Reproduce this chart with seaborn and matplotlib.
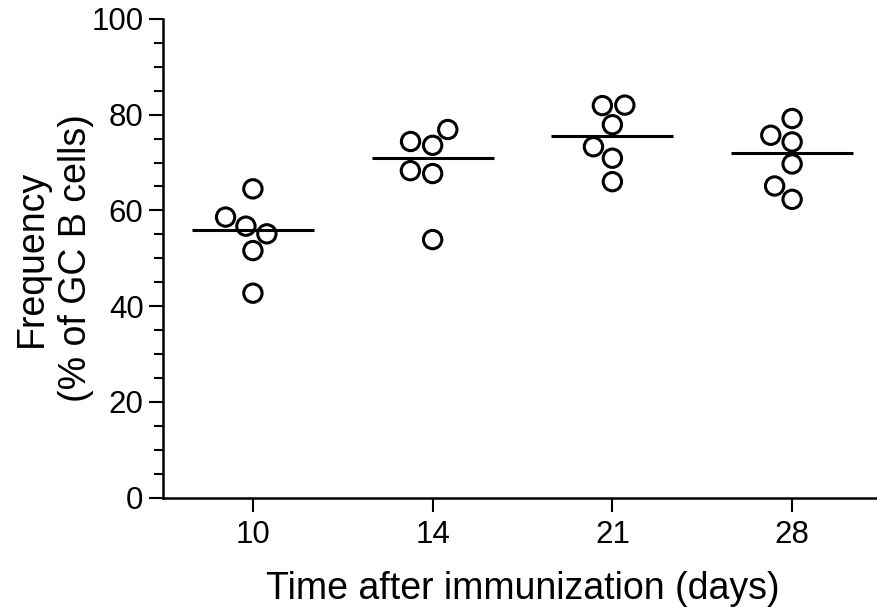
import numpy as np
import pandas as pd
import seaborn as sns
import matplotlib.pyplot as plt
from matplotlib.ticker import MultipleLocator

# values
days = ["10", "14", "21", "28"]
day10 = [64.5, 58.6, 56.7, 55.1, 51.6, 42.7]
day14 = [76.9, 74.4, 73.6, 68.3, 67.7, 53.9]
day21 = [82.0, 81.9, 77.9, 73.3, 70.9, 66.0]
day28 = [79.2, 75.7, 74.3, 69.7, 65.1, 62.3]

df = pd.DataFrame({
    "day": np.repeat(days, 6),
    "freq": day10 + day14 + day21 + day28,
})

sns.set_theme(style="ticks")
plt.rcParams["font.family"] = ["Liberation Sans", "DejaVu Sans"]

fig = plt.figure(figsize=(8.77, 6.10), dpi=100)
ax = fig.add_axes([0.1859, 0.1844, 0.8198, 0.7845])

# median lines
sns.boxplot(data=df, x="day", y="freq", order=days, width=0.68,
            showbox=False, showcaps=False, showfliers=False,
            whiskerprops={"visible": False},
            medianprops={"color": "black", "linewidth": 2.2}, ax=ax)

# open circles
sns.swarmplot(data=df, x="day", y="freq", order=days, size=13.2,
              color="black", facecolor="none", edgecolor="black",
              linewidth=2.2, ax=ax)

ax.set_ylim(0, 100)
ax.set_xlim(-0.5, 3.5)
ax.yaxis.set_major_locator(MultipleLocator(20))
ax.yaxis.set_minor_locator(MultipleLocator(5))

sns.despine(ax=ax)
for s in ["left", "bottom"]:
    ax.spines[s].set_linewidth(1.8)
    ax.spines[s].set_color("black")

ax.tick_params(axis="both", which="major", length=10, width=1.5,
               labelsize=22.5, color="black", labelcolor="black")
ax.tick_params(axis="y", which="minor", length=6.5, width=1.5, color="black")
ax.tick_params(axis="y", which="major", pad=4)
ax.tick_params(axis="x", which="major", pad=6.5)

ax.set_xlabel("Time after immunization (days)", fontsize=27, labelpad=15,
              color="black")
ax.set_ylabel("Frequency\n(% of GC B cells)", fontsize=27, linespacing=1.3,
              color="black")
ax.yaxis.set_label_coords(-0.096, 0.5)

fig.savefig("out.png", dpi=100)
